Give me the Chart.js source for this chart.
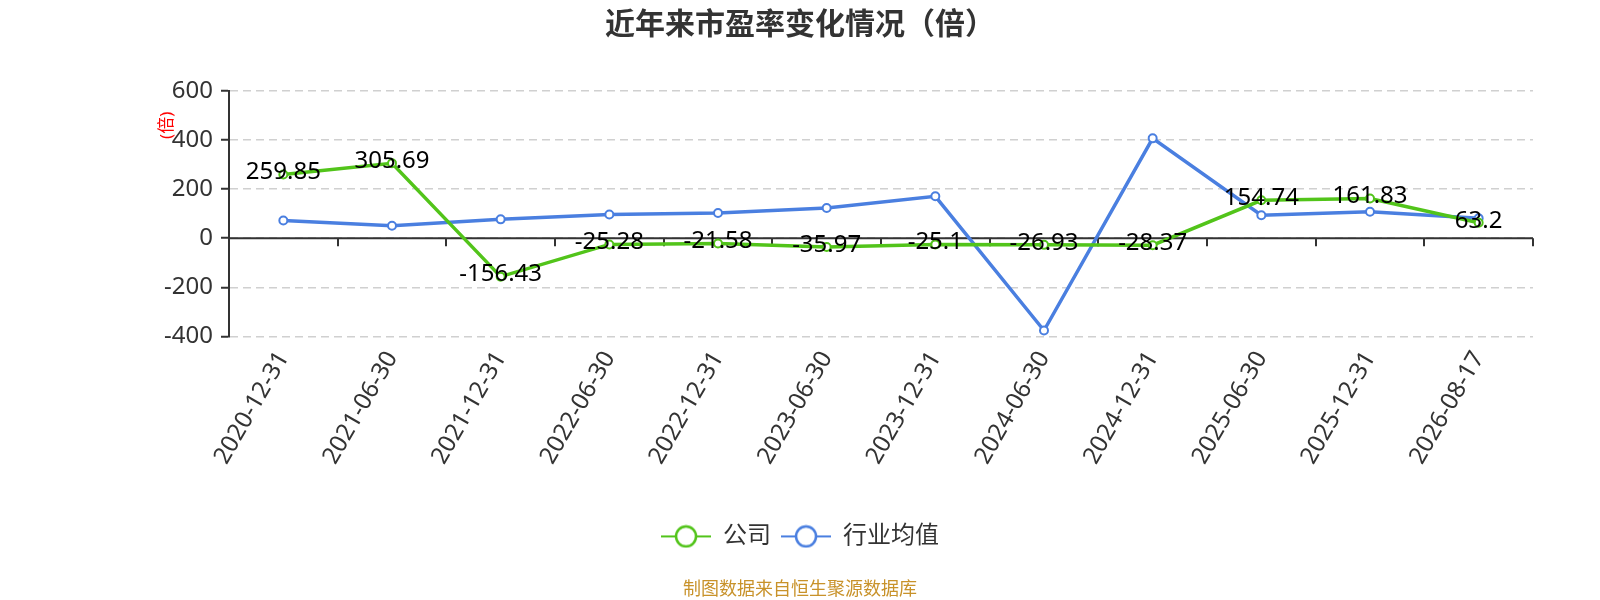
<!DOCTYPE html>
<html>
<head>
<meta charset="utf-8">
<script src="https://cdn.jsdelivr.net/npm/chart.js@4"></script>
<style>
  html, body { margin: 0; padding: 0; background: #fff; }
  #wrap { width: 1600px; height: 600px; }
</style>
</head>
<body>
<div id="wrap"><canvas id="peChart"></canvas></div>
<script>
// 市盈率数据
var dates = ['2020-12-31', '2021-06-30', '2021-12-31', '2022-06-30', '2022-12-31', '2023-06-30',
             '2023-12-31', '2024-06-30', '2024-12-31', '2025-06-30', '2025-12-31', '2026-08-17'];
var companyPE = [259.85, 305.69, -156.43, -25.28, -21.58, -35.97, -25.1, -26.93, -28.37, 154.74, 161.83, 63.2];
var industryPE = [72, 51, 77, 97, 103, 123, 171, -376, 407, 94, 108, 81];
var yTicks = [-400, -200, 0, 200, 400, 600];

var green = '#52c41a';
var blue = '#4a7fe0';
var fontFamily = '"Noto Sans", "Noto Sans CJK SC", sans-serif';

// legend icon: short line with a hollow circle
function legendIcon(color) {
  var c = document.createElement('canvas');
  c.width = 50; c.height = 24;
  var g = c.getContext('2d');
  g.strokeStyle = color;
  g.lineWidth = 2;
  g.beginPath(); g.moveTo(0, 12); g.lineTo(50, 12); g.stroke();
  g.fillStyle = '#fff';
  g.lineWidth = 2.5;
  g.beginPath(); g.arc(25, 12, 10, 0, Math.PI * 2); g.fill(); g.stroke();
  return c;
}
var icons = [legendIcon(green), legendIcon(blue)];

// zero axis line with ticks between categories + "(倍)" unit label
var axisPlugin = {
  id: 'zeroAxis',
  beforeDatasetsDraw: function(chart) {
    var ctx = chart.ctx, x = chart.scales.x, y = chart.scales.y;
    var y0 = y.getPixelForValue(0);
    var step = (x.right - x.left) / dates.length;
    ctx.save();
    ctx.strokeStyle = '#333';
    ctx.lineWidth = 2;
    ctx.beginPath();
    ctx.moveTo(x.left, y0); ctx.lineTo(x.right, y0);
    for (var i = 1; i <= dates.length; i++) {
      var px = Math.round(x.left + i * step);
      ctx.moveTo(px, y0); ctx.lineTo(px, y0 + 8);
    }
    ctx.stroke();
    ctx.restore();
  },
  afterDraw: function(chart) {
    var ctx = chart.ctx, y = chart.scales.y;
    ctx.save();
    ctx.translate(167, y.getPixelForValue(460));
    ctx.rotate(-Math.PI / 2);
    ctx.fillStyle = '#ff0000';
    ctx.font = '17px ' + fontFamily;
    ctx.textAlign = 'center';
    ctx.textBaseline = 'middle';
    ctx.fillText('(倍)', 0, 0);
    ctx.restore();
  }
};

// value labels for the company series
var labelPlugin = {
  id: 'valueLabels',
  afterDatasetsDraw: function(chart) {
    var ctx = chart.ctx;
    var meta = chart.getDatasetMeta(0);
    ctx.save();
    ctx.fillStyle = '#000';
    ctx.font = '24px ' + fontFamily;
    ctx.textAlign = 'center';
    ctx.textBaseline = 'middle';
    meta.data.forEach(function(pt, i) {
      ctx.fillText(String(companyPE[i]), pt.x, pt.y - 2);
    });
    ctx.restore();
  }
};

new Chart(document.getElementById('peChart'), {
  type: 'line',
  data: {
    labels: dates,
    datasets: [
      {
        label: '公司',
        data: companyPE,
        borderColor: green,
        backgroundColor: '#fff',
        borderWidth: 3.5,
        pointRadius: 4,
        pointBorderWidth: 2,
        pointBackgroundColor: '#fff',
        pointBorderColor: green,
        tension: 0
      },
      {
        label: '行业均值',
        data: industryPE,
        borderColor: blue,
        backgroundColor: '#fff',
        borderWidth: 3.5,
        pointRadius: 4,
        pointBorderWidth: 2,
        pointBackgroundColor: '#fff',
        pointBorderColor: blue,
        tension: 0
      }
    ]
  },
  options: {
    responsive: true,
    maintainAspectRatio: false,
    animation: false,
    layout: { padding: { left: 67, right: 67, top: 0, bottom: 0 } },
    plugins: {
      tooltip: { enabled: false },
      title: {
        display: true,
        text: '近年来市盈率变化情况（倍）',
        color: '#333',
        font: { family: fontFamily, size: 30, weight: 'bold' },
        padding: { top: 7, bottom: 48 }
      },
      subtitle: {
        display: true,
        position: 'bottom',
        text: '制图数据来自恒生聚源数据库',
        color: '#c8922a',
        font: { family: fontFamily, size: 18 },
        padding: { top: 21, bottom: -1 }
      },
      legend: {
        position: 'bottom',
        labels: {
          usePointStyle: true,
          pointStyleWidth: 50,
          color: '#333',
          padding: 10,
          font: { family: fontFamily, size: 24 },
          generateLabels: function(chart) {
            var items = Chart.defaults.plugins.legend.labels.generateLabels(chart);
            items.forEach(function(it) { it.pointStyle = icons[it.datasetIndex]; });
            return items;
          }
        }
      }
    },
    scales: {
      x: {
        offset: true,
        grid: { display: false, offset: true },
        border: { display: false },
        ticks: {
          autoSkip: false,
          minRotation: 60,
          maxRotation: 60,
          padding: 2,
          color: '#333',
          font: { family: fontFamily, size: 24 }
        },
        afterFit: function(scale) { scale.height = 178; }
      },
      y: {
        min: -400,
        max: 600,
        afterBuildTicks: function(scale) {
          scale.ticks = yTicks.map(function(v) { return { value: v }; });
        },
        grid: {
          color: '#d0d0d0',
          lineWidth: 1.5,
          tickColor: '#333',
          tickLength: 8,
          tickWidth: 2,
          tickBorderDash: []
        },
        border: { display: true, color: '#333', width: 2, dash: [8, 5] },
        ticks: {
          padding: 8,
          color: '#333',
          font: { family: fontFamily, size: 24 }
        },
        afterFit: function(scale) { scale.width = 162; }
      }
    }
  },
  plugins: [axisPlugin, labelPlugin]
});
</script>
</body>
</html>
